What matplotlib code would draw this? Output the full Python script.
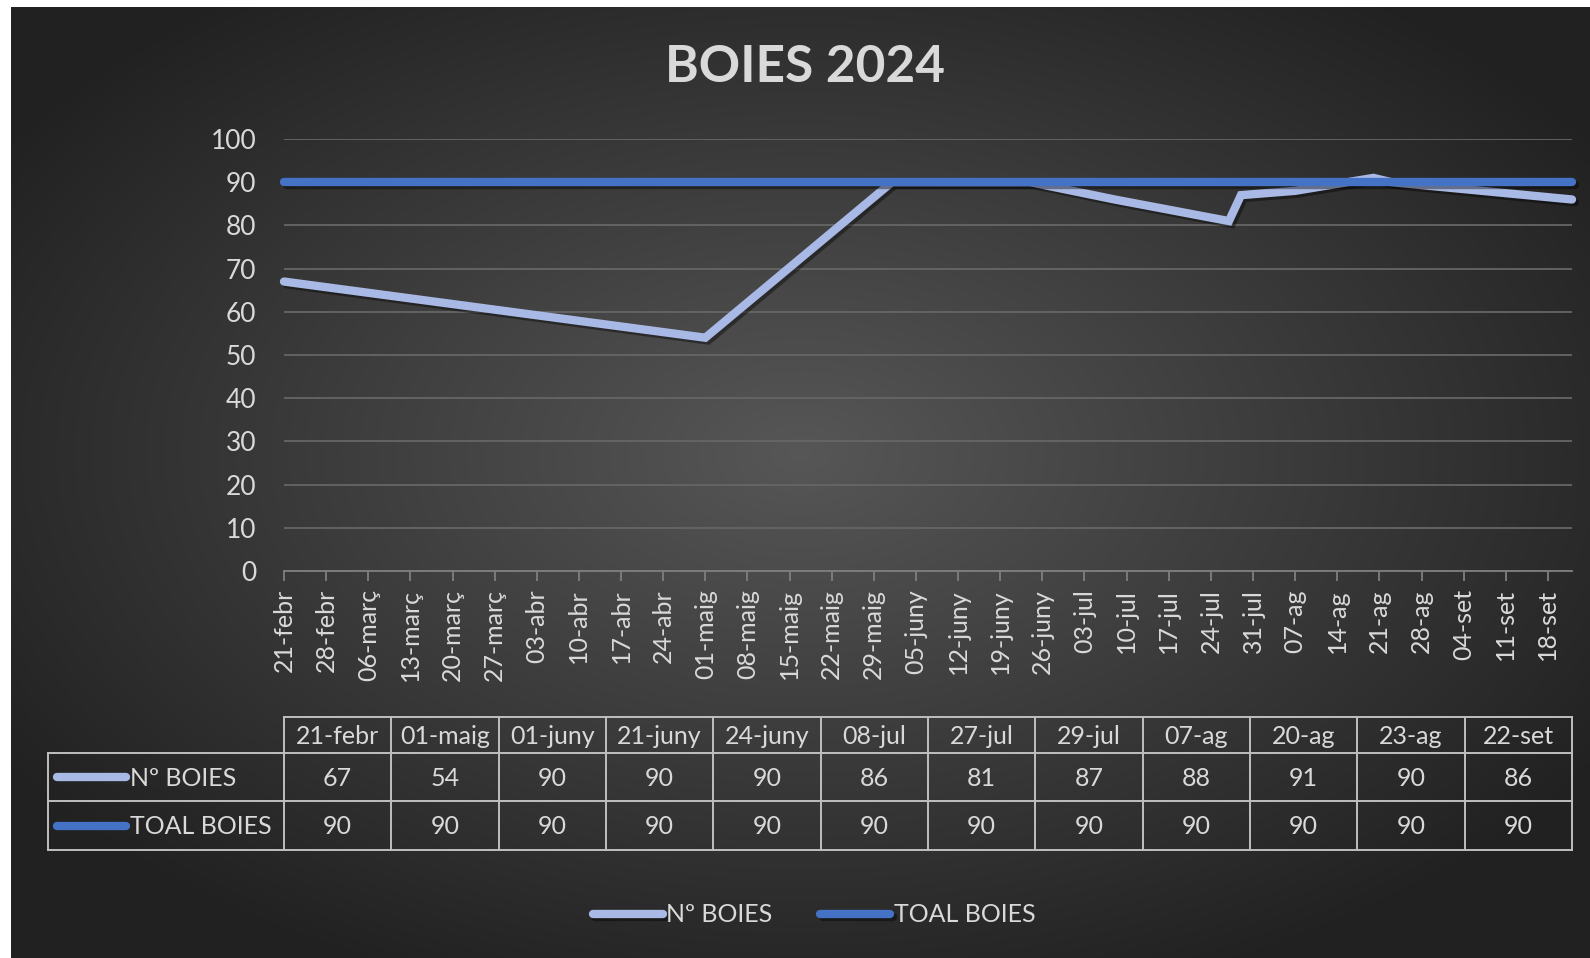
import numpy as np
import matplotlib.pyplot as plt
import matplotlib.dates as mdates
import matplotlib.patheffects as pe
from matplotlib.ticker import FuncFormatter

plt.rcParams['font.family'] = ['Lato', 'DejaVu Sans']

# dades
mesos = ['gen', 'febr', 'març', 'abr', 'maig', 'juny', 'jul', 'ag', 'set', 'oct', 'nov', 'des']
dates = ['2024-02-21', '2024-05-01', '2024-06-01', '2024-06-21', '2024-06-24', '2024-07-08',
         '2024-07-27', '2024-07-29', '2024-08-07', '2024-08-20', '2024-08-23', '2024-09-22']
n_boies = [67, 54, 90, 90, 90, 86, 81, 87, 88, 91, 90, 86]
total_boies = [90, 90, 90, 90, 90, 90, 90, 90, 90, 90, 90, 90]
series = [('Nº BOIES', n_boies, '#A9B9E5'), ('TOAL BOIES', total_boies, '#4472C4')]

dies = np.array(dates, dtype='datetime64[D]')
txt = '#D9D9D9'
W, H = 1590, 958


def etiqueta(d):
    d = mdates.num2date(d) if not hasattr(d, 'month') else d
    return f"{d.day:02d}-{mesos[d.month - 1]}"


fig = plt.figure(figsize=(W / 100, H / 100), dpi=100, facecolor='white')

# fons amb degradat radial
bg = fig.add_axes([11 / W, 0, 1 - 11 / W, 1 - 7 / H])
yy, xx = np.mgrid[0:1:300j, 0:1:500j]
r = np.sqrt(((xx - 0.5) / 0.75) ** 2 + ((yy - 0.47) / 0.75) ** 2)
g = np.clip(0.34 - 0.26 * r, 0.13, 0.34)
bg.imshow(np.dstack([g, g, g]), aspect='auto', extent=[0, 1, 0, 1], interpolation='bicubic')
bg.set_axis_off()

ax = fig.add_axes([284 / W, 1 - 571 / H, (1572 - 284) / W, (571 - 139) / H])
ax.set_facecolor('none')
sombra = [pe.SimpleLineShadow(offset=(2, -2), shadow_color='black', alpha=0.4), pe.Normal()]
handles = []
for nom, vals, col in series:
    ln, = ax.plot(dies, vals, color=col, lw=6, solid_capstyle='round', solid_joinstyle='miter',
                  clip_on=False, label=nom, path_effects=sombra)
    handles.append(ln)

ax.set_ylim(0, 100)
ax.set_yticks(range(0, 101, 10))
ax.set_xlim(dies[0], dies[-1])
ax.xaxis.set_major_locator(mdates.WeekdayLocator(byweekday=mdates.WE))
ax.xaxis.set_major_formatter(FuncFormatter(lambda x, p: etiqueta(x)))
ax.grid(axis='y', color='#666666', lw=1.3)
ax.set_axisbelow(True)
for s in ['top', 'right', 'left']:
    ax.spines[s].set_visible(False)
ax.spines['bottom'].set_color('#7F7F7F')
ax.spines['bottom'].set_linewidth(1.3)
ax.tick_params(axis='y', length=0, pad=20, labelsize=19, labelcolor=txt)
ax.tick_params(axis='x', length=7, width=1.3, color='#7F7F7F', pad=6, labelsize=18,
               labelcolor=txt, labelrotation=90)

fig.text(805 / W, 1 - 67 / H, 'BOIES 2024', ha='center', va='center', fontsize=37,
         fontweight='bold', color=txt)

# taula de dades
tb = fig.add_axes([0, 0, 1, 1])
tb.set_xlim(0, W)
tb.set_ylim(H, 0)
tb.set_axis_off()
tb.patch.set_alpha(0)
x0, x1, lx = 284, 1572, 48
ys = [717, 753, 801, 850]
cw = (x1 - x0) / len(dates)
lc = dict(color='#BFBFBF', lw=1.4)
tb.plot([x0, x1], [ys[0]] * 2, **lc)
for y in ys[1:]:
    tb.plot([lx, x1], [y, y], **lc)
tb.plot([lx, lx], [ys[1], ys[3]], **lc)
for i in range(len(dates) + 1):
    tb.plot([x0 + i * cw] * 2, [ys[0], ys[3]], **lc)
for i, d in enumerate(dies):
    cx = x0 + (i + 0.5) * cw
    tb.text(cx, (ys[0] + ys[1]) / 2 + 1, etiqueta(d.astype(object)), ha='center', va='center',
            fontsize=18, color=txt)
    for k, (nom, vals, col) in enumerate(series):
        tb.text(cx, (ys[k + 1] + ys[k + 2]) / 2 + 1, str(vals[i]), ha='center', va='center',
                fontsize=18, color=txt)
for k, (nom, vals, col) in enumerate(series):
    yc = (ys[k + 1] + ys[k + 2]) / 2
    tb.plot([57, 126], [yc, yc], color=col, lw=6, solid_capstyle='round')
    tb.text(130, yc + 1, nom, ha='left', va='center', fontsize=18, color=txt)

fig.legend(handles=handles, loc='center', bbox_to_anchor=(814 / W, 1 - 915 / H), ncol=2,
           frameon=False, fontsize=18, labelcolor=txt, handlelength=2.8, handletextpad=0.15,
           columnspacing=1.9)

fig.savefig('out.png', dpi=100, facecolor='white')
